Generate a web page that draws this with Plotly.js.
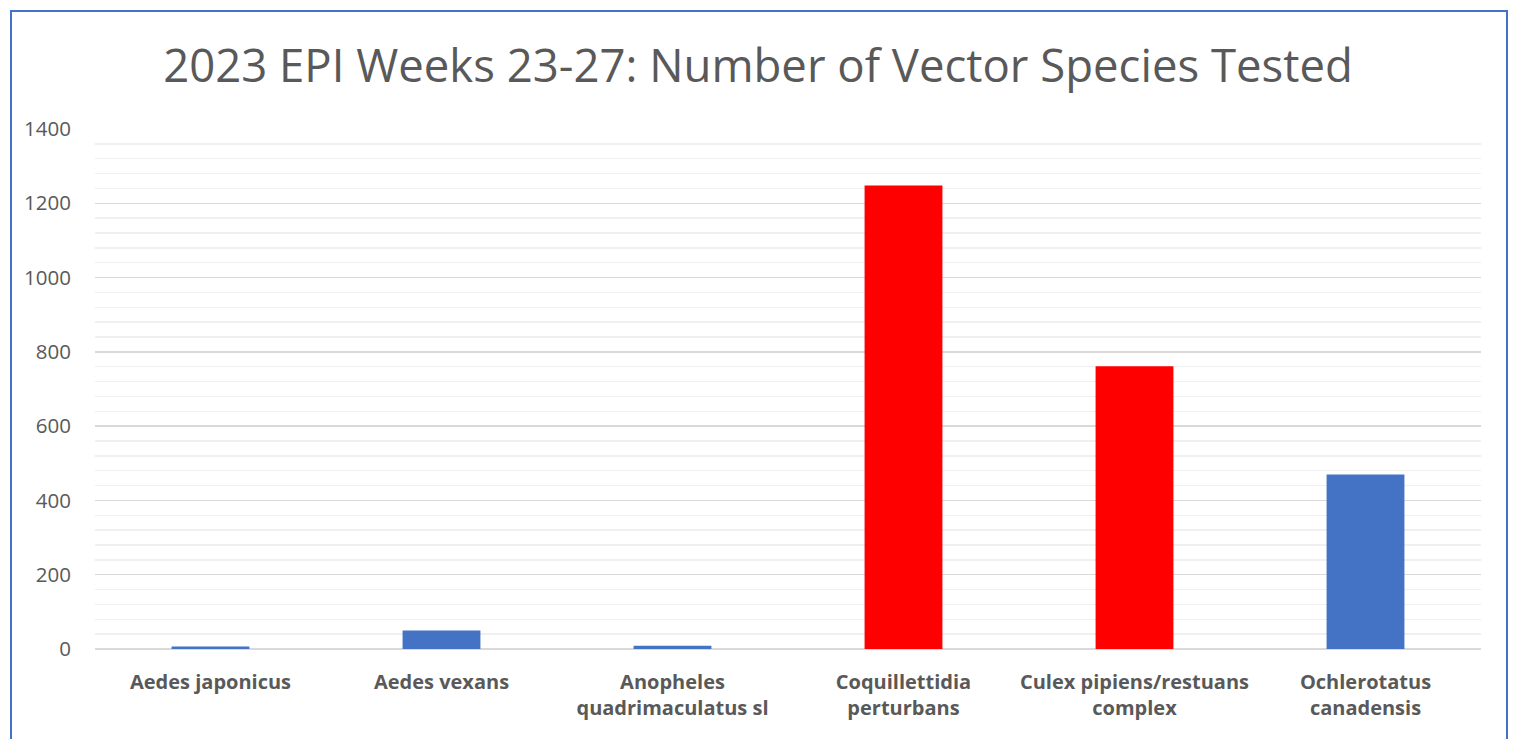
<!DOCTYPE html>
<html><head><meta charset="utf-8">
<script src="https://cdn.plot.ly/plotly-3.0.1.min.js"></script>
<style>
html,body{margin:0;padding:0;background:#fff;overflow:hidden;}
#frame{position:absolute;left:10px;top:10px;width:1498px;height:760px;border:2px solid #4472C4;box-sizing:border-box;pointer-events:none;z-index:5;}
#chart{position:absolute;left:0;top:0;width:1516px;height:739px;}
</style></head>
<body>
<div id="chart"></div>
<div id="frame"></div>
<script>
const categories = ["Aedes japonicus","Aedes vexans","Anopheles<br>quadrimaculatus sl","Coquillettidia<br>perturbans","Culex pipiens/restuans<br>complex","Ochlerotatus<br>canadensis"];
const counts = [7, 50, 9, 1248, 761, 470];
const barColors = ["#4472C4","#4472C4","#4472C4","#FF0000","#FF0000","#4472C4"];
const yTicks = [0,200,400,600,800,1000,1200,1400];

Plotly.newPlot('chart', [{
  type:'bar', x:categories, y:counts,
  marker:{color:barColors, line:{width:0}},
  hoverinfo:'x+y'
}], {
  width:1516, height:739,
  margin:{l:95, r:35, t:129, b:90},
  paper_bgcolor:'#fff', plot_bgcolor:'#fff',
  bargap:0.663,
  showlegend:false,
  title:{text:'2023 EPI Weeks 23-27: Number of Vector Species Tested', x:0.5, xref:'container', xanchor:'center', y:0.91, yanchor:'middle', font:{family:'Open Sans, sans-serif', size:45.5, color:'#595959'}},
  xaxis:{showgrid:false, showline:false, zeroline:false, ticks:'', ticklabelstandoff:19,
    tickfont:{family:'Open Sans, sans-serif', size:20, color:'#595959', weight:'bold'}},
  yaxis:{range:[0,1400], tickvals:yTicks, ticktext:yTicks.map(String), showgrid:true, gridcolor:'#d9d9d9', gridwidth:1.5,
    zeroline:true, zerolinecolor:'#d9d9d9', zerolinewidth:1.5, showline:false, ticks:'', ticklabelstandoff:23,
    tickfont:{family:'Open Sans, sans-serif', size:20.5, color:'#595959'},
    minor:{dtick:40, showgrid:true, gridcolor:'#f0f0f0', gridwidth:1.5}}
}, {displayModeBar:false, staticPlot:true});
</script>
</body></html>
